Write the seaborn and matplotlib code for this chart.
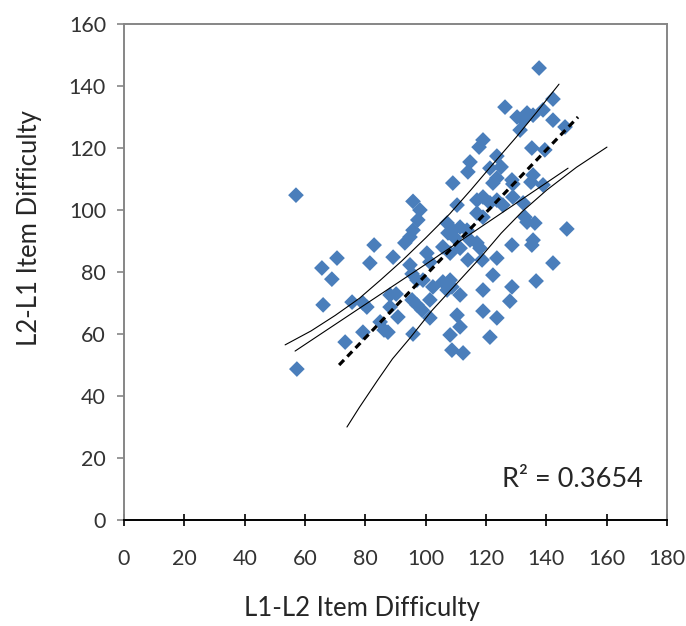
import numpy as np
import pandas as pd
import matplotlib
matplotlib.use("Agg")
import matplotlib.pyplot as plt
import seaborn as sns

# item difficulties
l1_l2 = [57.0, 57.3, 65.6, 66.0, 68.9, 70.6, 73.3, 75.6, 79.2, 80.5,
         79.2, 81.5, 82.9, 84.9, 86.2, 87.5, 88.2, 90.2, 88.2, 89.2,
         90.8, 93.1, 94.8, 95.8, 95.8, 98.1, 97.4, 94.8, 95.5, 97.1,
         99.1, 100.4, 101.4, 102.4, 105.7, 95.5, 97.1, 98.8, 101.4, 101.4,
         95.8, 107.1, 109.0, 111.4, 113.7, 107.4, 109.7, 111.4, 108.1, 105.7,
         110.4, 109.0, 114.0, 114.7, 114.7, 117.0, 118.0, 117.0, 119.0, 121.3,
         123.6, 125.6, 128.9, 132.3, 117.0, 119.0, 122.3, 123.6, 121.3, 125.0,
         123.6, 119.0, 117.7, 126.3, 130.3, 133.6, 132.3, 135.6, 138.9, 131.3,
         142.2, 142.2, 146.2, 137.6, 135.2, 139.5, 128.6, 128.9, 135.6, 134.9,
         138.9, 132.9, 133.6, 136.2, 146.8, 135.6, 135.2, 128.6, 142.2, 136.6,
         114.0, 118.7, 123.6, 122.3, 119.0, 128.6, 127.9, 108.1, 108.7, 107.1,
         111.4, 110.4, 111.4, 108.1, 108.7, 112.4, 119.0, 123.6, 121.3]
l2_l1 = [104.8, 48.7, 81.3, 69.4, 77.7, 84.5, 57.4, 70.3, 70.0, 68.7,
         60.6, 82.9, 88.7, 63.9, 61.3, 60.6, 72.6, 72.9, 68.7, 84.8,
         65.5, 89.4, 91.3, 93.5, 102.8, 100.0, 96.8, 82.3, 79.4, 77.4,
         77.4, 86.1, 83.2, 75.2, 76.8, 71.0, 69.4, 67.7, 71.0, 65.2,
         60.0, 95.8, 93.5, 94.5, 93.5, 92.6, 91.0, 87.7, 86.1, 88.1,
         101.6, 108.7, 112.3, 115.5, 90.3, 89.4, 87.7, 103.2, 104.2, 102.3,
         103.2, 101.6, 104.2, 102.3, 99.0, 97.7, 108.7, 110.3, 113.5, 113.9,
         117.4, 122.6, 120.3, 133.2, 130.0, 131.3, 129.0, 130.6, 132.3, 125.8,
         135.8, 129.0, 126.8, 145.8, 120.0, 119.4, 109.7, 108.4, 111.3, 109.0,
         108.1, 97.7, 96.1, 95.8, 93.9, 90.3, 88.7, 88.7, 82.9, 77.1,
         83.9, 83.9, 84.5, 79.0, 74.2, 75.2, 70.6, 77.4, 75.2, 74.2,
         72.6, 66.1, 62.3, 59.7, 54.8, 53.9, 67.4, 65.2, 59.0]

# trend line (dashed) and the three thin curves
trend_x = [71.3, 150.5]
trend_y = [50.0, 130.0]
upper_x = [53.4, 62.0, 70.0, 78.0, 85.0, 92.0, 100.0, 108.0, 115.0, 122.0, 130.0, 137.0, 144.2]
upper_y = [56.5, 61.0, 66.0, 71.5, 77.4, 83.5, 91.0, 98.8, 106.5, 114.5, 123.5, 131.8, 140.6]
middle_x = [56.7, 100.0, 147.2]
middle_y = [54.5, 82.5, 113.5]
lower_x = [73.9, 78.0, 84.0, 89.0, 94.8, 102.0, 110.0, 118.0, 125.0, 132.0, 140.2, 150.0, 160.1]
lower_y = [30.0, 36.3, 45.0, 52.0, 58.7, 67.5, 76.0, 84.5, 92.5, 99.5, 106.5, 113.8, 120.3]

x_ticks = list(range(0, 181, 20))
y_ticks = list(range(0, 161, 20))

sns.set_theme(style="white")
plt.rcParams['font.family'] = ['Lato', 'DejaVu Sans']

df = pd.DataFrame({"L1-L2": l1_l2, "L2-L1": l2_l1})

fig = plt.figure(figsize=(6.86, 6.26), dpi=100)
ax = fig.add_axes([0.1808, 0.1693, 0.7915, 0.7923])

sns.scatterplot(data=df, x="L1-L2", y="L2-L1", marker="D", s=64,
                color="#4A7EBB", edgecolor="none", ax=ax, zorder=2)

ax.plot(upper_x, upper_y, color="black", lw=0.8, zorder=3)
ax.plot(middle_x, middle_y, color="black", lw=0.8, zorder=3)
ax.plot(lower_x, lower_y, color="black", lw=0.8, zorder=3)
ax.plot(trend_x, trend_y, color="black", lw=2.3, ls=(0, (2.2, 1.5)), zorder=3)

ax.set_xlim(0, 180)
ax.set_ylim(0, 160)
ax.set_xticks(x_ticks)
ax.set_yticks(y_ticks)

for side in ["left", "top", "right"]:
    ax.spines[side].set_color("#868686")
    ax.spines[side].set_linewidth(1.4)
ax.spines["bottom"].set_color("black")
ax.spines["bottom"].set_linewidth(1.4)

ax.tick_params(axis="x", direction="inout", length=8, width=1.2, color="black",
               pad=17, labelsize=15.5, labelcolor="#333333", bottom=True)
ax.tick_params(axis="y", direction="out", length=5, width=1.2, color="#868686",
               pad=8, labelsize=15.5, labelcolor="#333333", left=True)

ax.set_xlabel("L1-L2 Item Difficulty", fontsize=18.5, color="#262626")
ax.set_ylabel("L2-L1 Item Difficulty", fontsize=18.5, color="#262626")
ax.xaxis.set_label_coords(0.438, -0.153)
ax.yaxis.set_label_coords(-0.151, 0.589)

ax.text(0.825, 0.081, "R² = 0.3654", transform=ax.transAxes, fontsize=19.5,
        ha="center", va="center", color="#262626")

fig.savefig("out.png", dpi=100)
